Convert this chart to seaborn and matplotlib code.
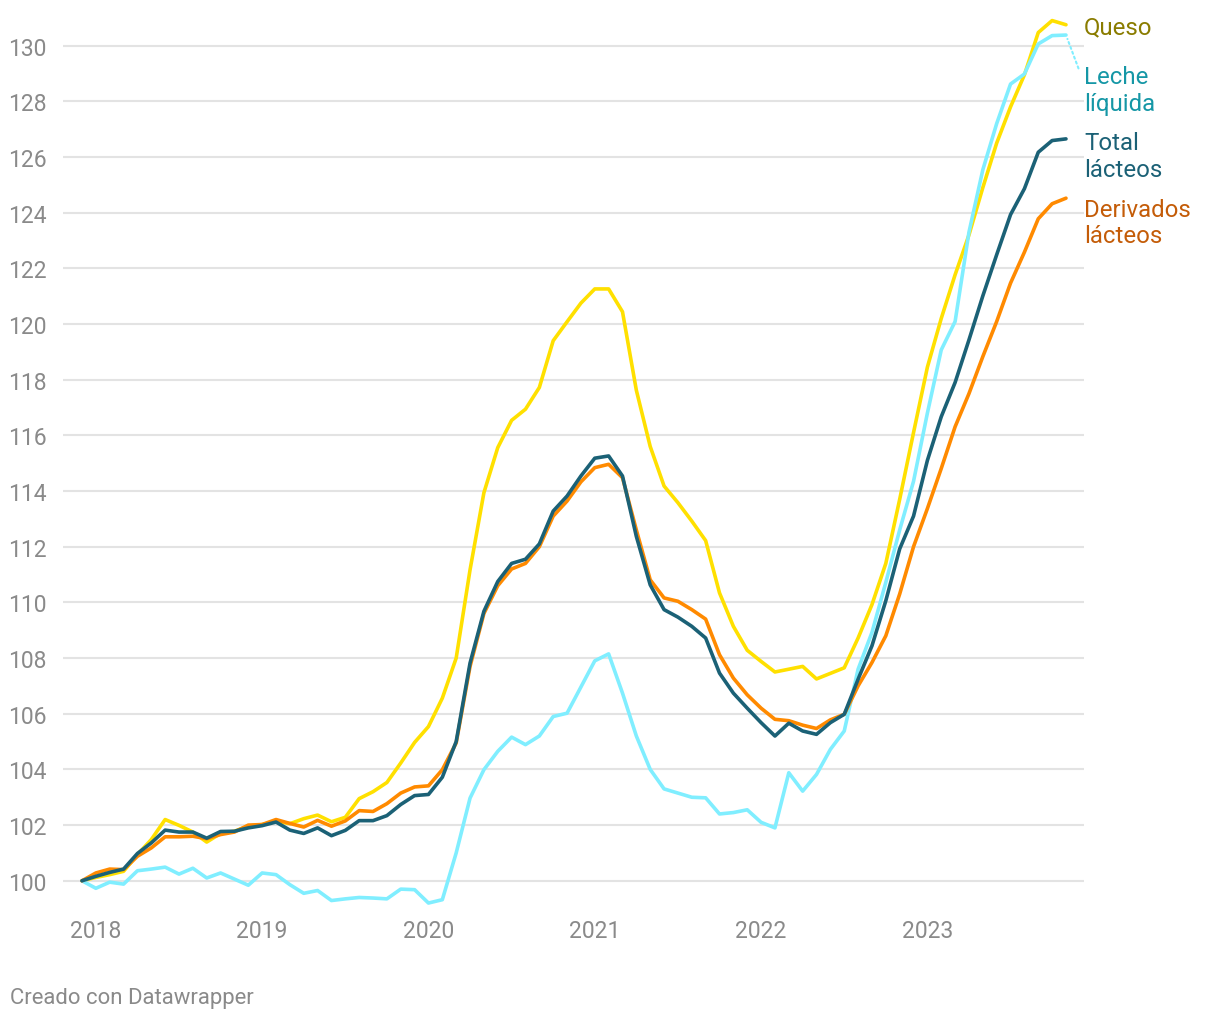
import pandas as pd
import numpy as np
import matplotlib.pyplot as plt
import seaborn as sns

# monthly index, base Dec 2017 = 100 (72 months: Dec 2017 .. Nov 2023)
months = pd.date_range('2017-12-01', periods=72, freq='MS')

queso = [100.0, 100.12, 100.22, 100.34, 100.94, 101.48, 102.2, 101.99, 101.75, 101.39,
         101.7, 101.78, 101.96, 102.02, 102.14, 102.05, 102.23, 102.36, 102.12, 102.28,
         102.95, 103.2, 103.53, 104.23, 104.97, 105.54, 106.56, 108.0, 111.17, 113.94,
         115.56, 116.54, 116.94, 117.72, 119.4, 120.08, 120.75, 121.26, 121.26, 120.44,
         117.62, 115.6, 114.18, 113.58, 112.92, 112.22, 110.34, 109.14, 108.28, 107.88,
         107.5, 107.6, 107.7, 107.25, 107.45, 107.65, 108.72, 109.92, 111.4, 113.7,
         116.1, 118.45, 120.2, 121.77, 123.2, 124.9, 126.5, 127.8, 128.95, 130.47,
         130.9, 130.75]

leche = [100.0, 99.73, 99.95, 99.88, 100.36, 100.42, 100.49, 100.24, 100.45, 100.1,
         100.28, 100.06, 99.84, 100.28, 100.22, 99.86, 99.55, 99.65, 99.29, 99.35,
         99.4, 99.38, 99.35, 99.7, 99.68, 99.2, 99.32, 101.0, 102.97, 103.99,
         104.65, 105.16, 104.89, 105.2, 105.9, 106.02, 106.96, 107.9, 108.15, 106.74,
         105.2, 104.0, 103.3, 103.15, 103.0, 102.98, 102.4, 102.45, 102.55, 102.1,
         101.9, 103.88, 103.22, 103.82, 104.72, 105.38, 107.6, 108.92, 110.72, 112.6,
         114.35, 116.8, 119.07, 120.09, 123.3, 125.54, 127.2, 128.62, 128.98, 130.06,
         130.36, 130.38]

total = [100.0, 100.16, 100.3, 100.42, 100.98, 101.36, 101.82, 101.75, 101.75, 101.53,
         101.77, 101.78, 101.9, 101.98, 102.11, 101.82, 101.7, 101.9, 101.62, 101.81,
         102.16, 102.16, 102.34, 102.74, 103.06, 103.1, 103.72, 105.0, 107.82, 109.68,
         110.75, 111.4, 111.55, 112.1, 113.28, 113.82, 114.54, 115.18, 115.26, 114.54,
         112.37, 110.63, 109.74, 109.47, 109.14, 108.72, 107.46, 106.74, 106.2, 105.68,
         105.2, 105.66, 105.38, 105.26, 105.68, 105.98, 107.24, 108.44, 110.06, 111.92,
         113.1, 115.1, 116.67, 117.9, 119.43, 121.01, 122.49, 123.93, 124.86, 126.17,
         126.59, 126.65]

derivados = [100.0, 100.28, 100.42, 100.4, 100.88, 101.18, 101.58, 101.58, 101.6, 101.51,
             101.66, 101.75, 102.0, 102.02, 102.2, 102.06, 101.93, 102.17, 101.96, 102.15,
             102.52, 102.49, 102.77, 103.15, 103.37, 103.41, 103.99, 104.95, 107.7, 109.6,
             110.6, 111.2, 111.4, 112.0, 113.1, 113.64, 114.33, 114.84, 114.96, 114.48,
             112.6, 110.81, 110.16, 110.04, 109.74, 109.4, 108.12, 107.28, 106.68, 106.2,
             105.8, 105.75, 105.59, 105.47, 105.78, 105.98, 107.0, 107.84, 108.8, 110.3,
             112.0, 113.37, 114.81, 116.31, 117.5, 118.83, 120.09, 121.47, 122.58, 123.78,
             124.32, 124.52]

series_names = ['Queso', 'Leche\nlíquida', 'Derivados\nlácteos', 'Total\nlácteos']
line_colors = ['#FFE000', '#80EEFF', '#FF8A00', '#1B6176']
label_colors = ['#8A7C00', '#1597A6', '#C45C08', '#1B6176']
label_shift = [-1.5, -39.5, -17.5, -12.5]  # points, label offsets from line end

year_ticks = ['2018', '2019', '2020', '2021', '2022', '2023']
y_ticks = list(range(100, 131, 2))

frames = []
for name, vals in zip(series_names, [queso, leche, derivados, total]):
    frames.append(pd.DataFrame({'mes': np.arange(len(months)), 'indice': vals, 'serie': name}))
data = pd.concat(frames, ignore_index=True)

sns.set_theme(style='white')
plt.rcParams['font.family'] = ['Roboto', 'DejaVu Sans']

fig = plt.figure(figsize=(12.2, 10.2), dpi=100)
ax = fig.add_axes([63 / 1220, 1 - 910 / 1020, (1084 - 63) / 1220, (910 - 15) / 1020])

for yv in y_ticks:
    ax.axhline(yv, color='#e3e3e3', lw=1.5, zorder=0)

sns.lineplot(data=data, x='mes', y='indice', hue='serie', hue_order=series_names,
             palette=dict(zip(series_names, line_colors)), linewidth=2.6,
             legend=False, ax=ax)

ax.set_xlim(-1.37, 72.3)
ax.set_ylim(98.986, 131.136)

for s in ax.spines.values():
    s.set_visible(False)

ax.set_yticks(y_ticks)
ax.set_yticklabels([str(v) for v in y_ticks])
ax.tick_params(axis='y', length=0, pad=12, labelsize=16.5, labelcolor='#8a8a8a')
ax.tick_params(axis='x', length=0, pad=7, labelsize=16.5, labelcolor='#8a8a8a')
# year labels sit at January of each year
jan_idx = [i for i, m in enumerate(months) if m.month == 1]
ax.set_xticks(jan_idx)
ax.set_xticklabels(year_ticks)
ax.set_xlabel('')
ax.set_ylabel('')

last = len(months) - 1
for name, vals, col, dy in zip(series_names, [queso, leche, derivados, total], label_colors, label_shift):
    ax.annotate(name, xy=(last, vals[-1]), xytext=(13, dy), textcoords='offset points',
                ha='left', va='center', fontsize=17.3, color=col, linespacing=1.2)

# dotted connector from the Leche line end to its label
ax.annotate('', xy=(last, leche[-1]), xytext=(9, -24), textcoords='offset points',
            arrowprops=dict(arrowstyle='-', linestyle=(0, (1, 1.5)), color='#80EEFF', lw=1.5,
                            shrinkA=0, shrinkB=3))

fig.text(10 / 1220, 1 - 999 / 1020, 'Creado con Datawrapper', fontsize=15.9,
         color='#8a8a8a', ha='left', va='center')

plt.savefig('out.png', dpi=100)
